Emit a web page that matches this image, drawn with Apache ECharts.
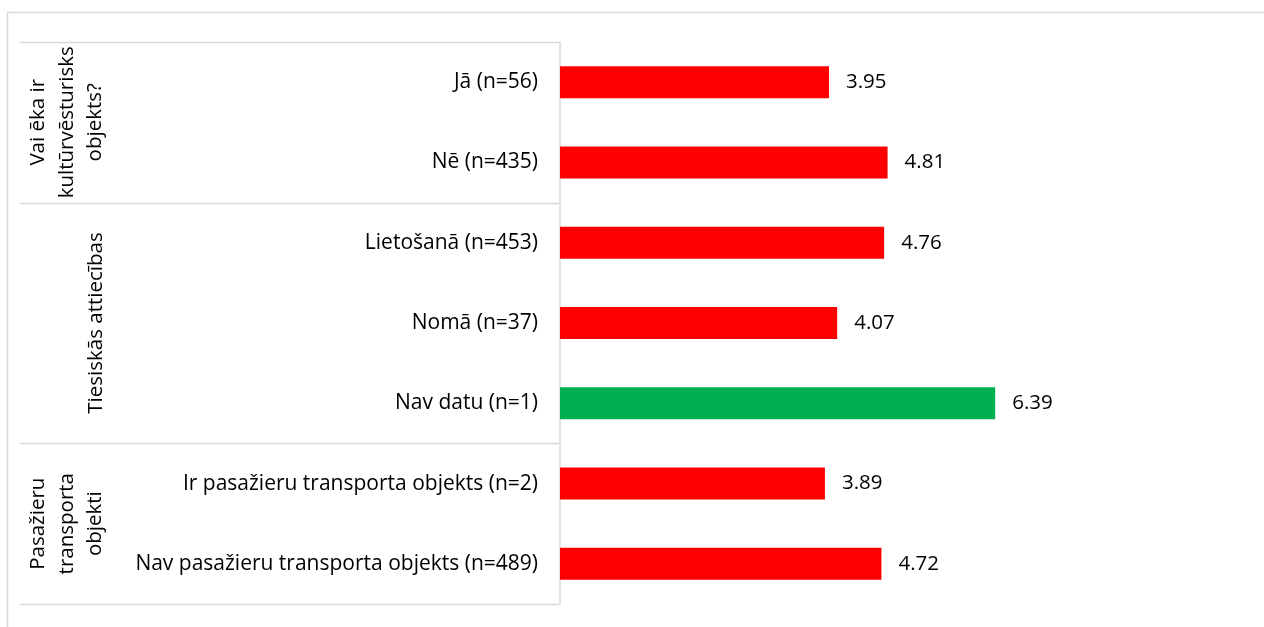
<!DOCTYPE html>
<html><head><meta charset="utf-8">
<script src="https://cdn.jsdelivr.net/npm/echarts@6/dist/echarts.min.js"></script>
<style>html,body{margin:0;padding:0;background:#fff}#c{width:1264px;height:627px}</style>
</head><body><div id="c"></div>
<script>
const categories = ['Jā (n=56)','Nē (n=435)','Lietošanā (n=453)','Nomā (n=37)','Nav datu (n=1)','Ir pasažieru transporta objekts (n=2)','Nav pasažieru transporta objekts (n=489)'];
const values = [3.95, 4.81, 4.76, 4.07, 6.39, 3.89, 4.72];
const barColors = ['#FF0000','#FF0000','#FF0000','#FF0000','#00B050','#FF0000','#FF0000'];
const groups = ['Vai ēka ir\nkultūrvēsturisks\nobjekts?','Tiesiskās attiecības','Pasažieru\ntransporta\nobjekti'];
const groupSizes = [2, 3, 2];
const groupLabelX = [67, 96, 67];

const FONT = 'Open Sans';
const FS = 20.5;
const chart = echarts.init(document.getElementById('c'));
chart.setOption({
  animation:false,
  grid:{left:560, right:23, top:42, bottom:23, containLabel:false},
  xAxis:{type:'value', min:0, max:10, show:false},
  yAxis:{type:'category', inverse:true, data:categories,
    axisLine:{show:true, lineStyle:{color:'#d9d9d9', width:1.5}},
    axisTick:{show:false},
    axisLabel:{color:'#000', fontFamily:FONT, fontSize:21, margin:22}
  },
  series:[{type:'bar', barWidth:32,
    data: values.map((v,i)=>({value:v, itemStyle:{color:barColors[i]}})),
    label:{show:true, position:'right', distance:17, color:'#000', fontFamily:FONT, fontSize:FS, formatter:p=>p.value.toFixed(2)}
  }]
});
// decorations derived from axis
const yPix = i => chart.convertToPixel({yAxisIndex:0}, i);
const band = yPix(1) - yPix(0);
const els = [];
els.push({type:'rect', shape:{x:7.5, y:12.5, width:1400, height:800}, style:{fill:'none', stroke:'#d9d9d9', lineWidth:1.5}, z:-1});
let idx = 0;
const bounds = [0];
groupSizes.forEach(s=>{ idx += s; bounds.push(idx); });
bounds.forEach(b=>{
  const y = Math.round(yPix(0) - band/2 + b*band) + 0.5;
  els.push({type:'line', shape:{x1:20, y1:y, x2:559, y2:y}, style:{stroke:'#d9d9d9', lineWidth:1.5}});
});
groups.forEach((g,k)=>{
  const start = bounds[k], end = bounds[k+1];
  const yc = yPix(0) - band/2 + (start+end)/2*band;
  els.push({type:'text', x:groupLabelX[k], y:yc, rotation:Math.PI/2,
    style:{text:g, fill:'#000', font:FS+'px "'+FONT+'"', align:'center', verticalAlign:'middle', lineHeight:28.5}});
});
chart.setOption({graphic:els});
</script></body></html>
